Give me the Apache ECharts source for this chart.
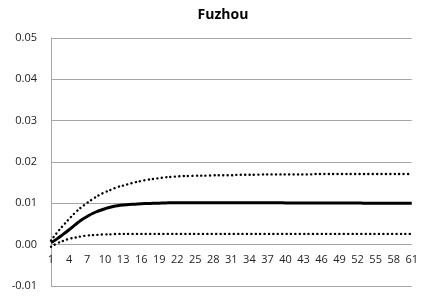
<!DOCTYPE html>
<html>
<head>
<meta charset="utf-8">
<script src="https://cdn.jsdelivr.net/npm/echarts@6/dist/echarts.min.js"></script>
<style>html,body{margin:0;padding:0;background:#fff}#c{width:421px;height:297px}</style>
</head>
<body>
<div id="c"></div>
<script>
const titleText = "Fuzhou";
const periods = Array.from({length: 61}, (_, i) => String(i + 1));
const yTicks = [-0.01, 0.00, 0.01, 0.02, 0.03, 0.04, 0.05];
const meanResp = [
  0.0005, 0.0014, 0.0025, 0.0036, 0.0048, 0.0059, 0.0068, 0.0076, 0.0082, 0.0087,
  0.0091, 0.0094, 0.0096, 0.0097, 0.0098, 0.0099, 0.00995, 0.0100, 0.01005, 0.0101,
  0.01012, 0.01014, 0.01015, 0.01016, 0.01016, 0.01016, 0.01016, 0.01016, 0.01016, 0.01016,
  0.01015, 0.01015, 0.01015, 0.01014, 0.01014, 0.01013, 0.01013, 0.01012, 0.01012, 0.01011,
  0.01011, 0.0101, 0.0101, 0.0101, 0.01009, 0.01009, 0.01008, 0.01008, 0.01007, 0.01007,
  0.01006, 0.01006, 0.01005, 0.01005, 0.01004, 0.01004, 0.01003, 0.01003, 0.01002, 0.01002, 0.01001
];
const upperBand = [
  0.0010, 0.0029, 0.0046, 0.0062, 0.0077, 0.0090, 0.0101, 0.0111, 0.0120, 0.0127,
  0.0133, 0.0139, 0.0143, 0.0147, 0.0151, 0.0154, 0.0157, 0.0159, 0.0161, 0.0163,
  0.0164, 0.0165, 0.0166, 0.0166, 0.0167, 0.0167, 0.0167, 0.0168, 0.0168, 0.0168,
  0.0168, 0.0169, 0.0169, 0.0169, 0.0169, 0.0170, 0.0170, 0.0170, 0.0170, 0.0170,
  0.0170, 0.0170, 0.0170, 0.0170, 0.0171, 0.0171, 0.0171, 0.0171, 0.0171, 0.0171,
  0.0171, 0.0171, 0.0171, 0.0171, 0.0171, 0.0171, 0.0171, 0.0171, 0.0171, 0.0171, 0.0171
];
const lowerBand = [
  -0.0005, 0.0003, 0.0009, 0.0014, 0.0017, 0.0020, 0.0022, 0.0023, 0.0024, 0.0025,
  0.0025, 0.0026, 0.0026, 0.0026, 0.0026, 0.0026, 0.0026, 0.0026, 0.0026, 0.0026,
  0.0026, 0.0026, 0.0026, 0.0026, 0.0026, 0.0026, 0.0026, 0.0026, 0.0026, 0.0026,
  0.0026, 0.0026, 0.0026, 0.0026, 0.0026, 0.0026, 0.0026, 0.0026, 0.0026, 0.0026,
  0.0026, 0.0026, 0.0026, 0.0026, 0.0026, 0.0026, 0.0026, 0.0026, 0.0026, 0.0026,
  0.0026, 0.0026, 0.0026, 0.0026, 0.0026, 0.0026, 0.0026, 0.0026, 0.0026, 0.0026, 0.0026
];

const chart = echarts.init(document.getElementById('c'), null, {renderer: 'canvas'});
const font = '"Open Sans", "Noto Sans", sans-serif';
const gridColor = '#a6a6a6';
const dotted = {color: '#000', width: 2.4, type: [0.1, 4.3], cap: 'round'};
const gridTop = 38, gridBottom = 11, chartH = 297;
const zeroOffset = -((chartH - gridTop - gridBottom) / (yTicks.length - 1)) * 1;
chart.setOption({
  animation: false,
  backgroundColor: '#fff',
  title: {
    text: titleText, left: 218, top: 3, textAlign: 'center',
    textStyle: {fontFamily: font, fontWeight: 'bold', fontSize: 14, color: '#000'}
  },
  grid: {left: 51, right: 5, top: gridTop, bottom: gridBottom, containLabel: false},
  xAxis: {
    type: 'category', data: periods, boundaryGap: false,
    offset: zeroOffset,
    axisLine: {onZero: false, lineStyle: {color: gridColor, width: 1}},
    axisTick: {show: false},
    axisLabel: {interval: 2, margin: 10, fontFamily: font, fontSize: 11, color: '#222'},
    splitLine: {show: false}
  },
  yAxis: {
    type: 'value', min: yTicks[0], max: yTicks[yTicks.length - 1], interval: 0.01,
    axisLine: {show: true, lineStyle: {color: gridColor, width: 1}},
    axisTick: {show: false},
    axisLabel: {margin: 14, fontFamily: font, fontSize: 11, color: '#222',
      formatter: v => (Math.abs(v) < 1e-9 ? 0 : v).toFixed(2)},
    splitLine: {show: true, lineStyle: {color: gridColor, width: 1}}
  },
  series: [
    {type: 'line', data: upperBand, smooth: true, symbol: 'none', lineStyle: dotted, z: 3},
    {type: 'line', data: lowerBand, smooth: true, symbol: 'none', lineStyle: dotted, z: 3},
    {type: 'line', data: meanResp, smooth: true, symbol: 'none', lineStyle: {color: '#000', width: 3}, z: 4}
  ]
});
</script>
</body>
</html>
